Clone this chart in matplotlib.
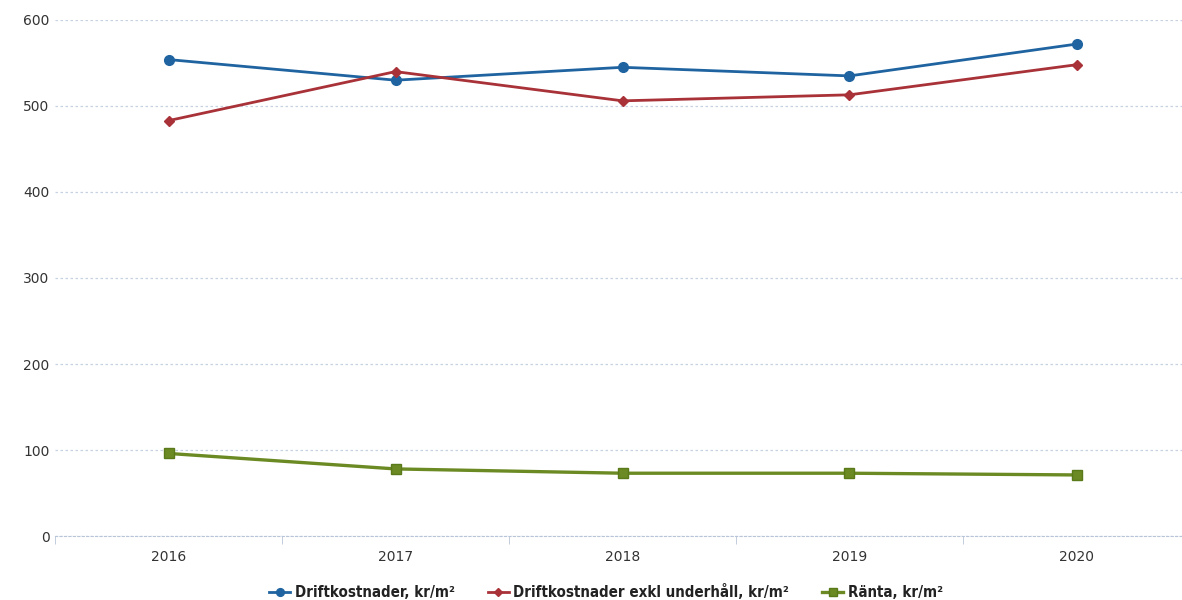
import matplotlib
matplotlib.use('Agg')
import matplotlib.pyplot as plt
from matplotlib.ticker import FixedLocator

years = ['2016', '2017', '2018', '2019', '2020']
drift = [554, 530, 545, 535, 572]
drift_exkl = [483, 540, 506, 513, 548]
ranta = [96, 78, 73, 73, 71]

fig = plt.figure(figsize=(11.82, 6.0), dpi=100)
ax = fig.add_axes([55 / 1182, 64 / 600, 1135 / 1182, 516 / 600])

x = list(range(len(years)))
ax.plot(x, drift, color='#1f64a0', lw=2.0, marker='o', ms=7,
        label='Driftkostnader, kr/m²')
ax.plot(x, drift_exkl, color='#a83238', lw=2.0, marker='D', ms=5,
        label='Driftkostnader exkl underhåll, kr/m²')
ax.plot(x, ranta, color='#6b8a23', lw=2.4, marker='s', ms=7,
        markeredgecolor='#5a7a1a', label='Ränta, kr/m²')

ax.set_xlim(-0.5, 4.5)
ax.set_ylim(0, 600)
ax.set_yticks(range(0, 601, 100))
ax.set_xticks(x)
ax.set_xticklabels(years)
ax.xaxis.set_minor_locator(FixedLocator([i - 0.5 for i in range(len(years) + 1)]))
ax.tick_params(axis='x', which='major', length=0, pad=10, labelsize=10, labelcolor='#333333')
ax.tick_params(axis='x', which='minor', length=6, color='#b8c4d8', direction='out')
ax.tick_params(axis='y', length=0, pad=4, labelsize=10, labelcolor='#333333')

ax.grid(axis='y', color='#c6d2e2', lw=0.9, ls=(0, (2, 2)))
ax.set_axisbelow(True)
for s in ['top', 'right', 'left']:
    ax.spines[s].set_visible(False)
ax.spines['bottom'].set_color('#b8c4d8')
ax.spines['bottom'].set_linestyle((0, (2, 2)))

leg = fig.legend(loc='center', bbox_to_anchor=(606 / 1182, 1 - 592 / 600), ncol=3,
                 frameon=False, handlelength=1.4, handletextpad=0.3,
                 columnspacing=2.2, markerscale=0.8,
                 prop={'family': 'DejaVu Sans', 'stretch': 'condensed',
                       'weight': 'bold', 'size': 10.8})
for t in leg.get_texts():
    t.set_color('#222222')

fig.savefig('out.png', dpi=100)
